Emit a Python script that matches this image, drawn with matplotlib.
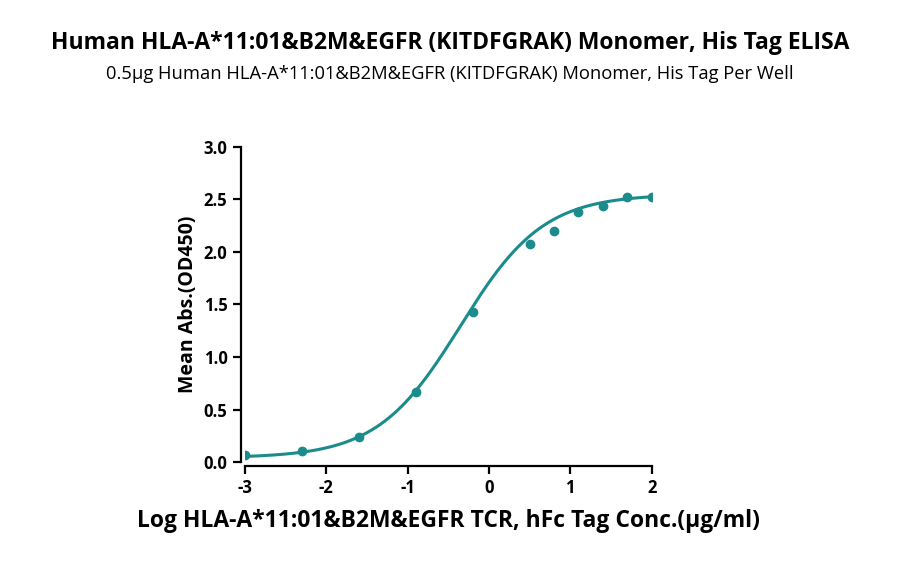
import numpy as np
import matplotlib
matplotlib.use("Agg")
import matplotlib.pyplot as plt

plt.rcParams['font.family'] = ['Open Sans', 'DejaVu Sans']
plt.rcParams['axes.unicode_minus'] = False

log_conc = [-3.0, -2.3, -1.6, -0.9, -0.2, 0.5, 0.8, 1.1, 1.4, 1.7, 2.0]
od450 = [0.07, 0.11, 0.24, 0.67, 1.43, 2.08, 2.20, 2.38, 2.44, 2.52, 2.52]
# 4PL fit parameters
bottom, top, logec50, hill = 0.04, 2.55, -0.35, 0.85

color = '#1b8b8b'
fig = plt.figure(figsize=(9, 5.67), dpi=100)
ax = fig.add_axes([0.272, 0.185, 0.452, 0.556])

xs = np.linspace(-3, 2, 300)
ys = bottom + (top - bottom) / (1 + 10 ** ((logec50 - xs) * hill))
ax.plot(xs, ys, color=color, lw=2.2)
ax.plot(log_conc, od450, 'o', color=color, ms=6)

ax.set_xlim(-3, 2)
ax.set_ylim(0, 3.0)
ax.set_xticks([-3, -2, -1, 0, 1, 2])
ax.set_yticks([0, 0.5, 1.0, 1.5, 2.0, 2.5, 3.0])
ax.set_yticklabels(['0.0', '0.5', '1.0', '1.5', '2.0', '2.5', '3.0'])
ax.spines['top'].set_visible(False)
ax.spines['right'].set_visible(False)
for s in ['left', 'bottom']:
    ax.spines[s].set_linewidth(1.6)
    ax.spines[s].set_position(('outward', 3))
ax.tick_params(width=1.6, length=6, labelsize=12)
for lab in ax.get_xticklabels() + ax.get_yticklabels():
    lab.set_fontweight('bold')
ax.set_xlabel('Log HLA-A*11:01&B2M&EGFR TCR, hFc Tag Conc.(μg/ml)', fontsize=16.5, fontweight='bold', labelpad=8)
ax.set_ylabel('Mean Abs.(OD450)', fontsize=14, fontweight='bold')

fig.text(0.5, 0.913, 'Human HLA-A*11:01&B2M&EGFR (KITDFGRAK) Monomer, His Tag ELISA',
         ha='center', fontsize=16.5, fontweight='bold')
fig.text(0.5, 0.86, '0.5μg Human HLA-A*11:01&B2M&EGFR (KITDFGRAK) Monomer, His Tag Per Well',
         ha='center', fontsize=13.2)
fig.savefig('out.png', dpi=100)
